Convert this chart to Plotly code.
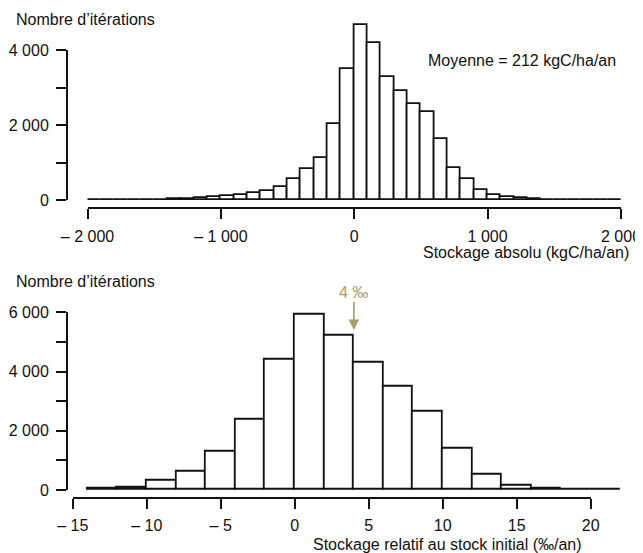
import plotly.graph_objects as go

# ---------------- data ----------------
# Top histogram: absolute storage (kgC/ha/an), bins of width 100 from -2000 to 2000
abs_bin_start = list(range(-2000, 2000, 100))
abs_bin_width = 100
abs_counts = [0, 0, 0, 2, 4, 8, 14, 27, 50, 85,
              105, 133, 178, 249, 338, 570, 840, 1111, 2027, 3493,
              4667, 4187, 3289, 2916, 2551, 2338, 1627, 862, 550, 260,
              145, 71, 44, 20, 12, 8, 5, 3, 1, 0]
abs_yticks = [0, 1000, 2000, 3000, 4000]
abs_yticklabels = ["0", "", "2 000", "", "4 000"]
abs_xticks = [-2000, -1000, 0, 1000, 2000]
abs_xticklabels = ["\u2013 2 000", "\u2013 1 000", "0", "1 000", "2 000"]

# Bottom histogram: relative storage (‰/an), bins of width 2 from -14 to 22
rel_bin_start = list(range(-14, 22, 2))
rel_bin_width = 2
rel_counts = [35, 90, 300, 620, 1310, 2365, 4403, 5912, 5203,
              4291, 3491, 2635, 1400, 520, 152, 56, 0, 0]
rel_yticks = [0, 1000, 2000, 3000, 4000, 5000, 6000]
rel_yticklabels = ["0", "", "2 000", "", "4 000", "", "6 000"]
rel_xticks = [-15, -10, -5, 0, 5, 10, 15, 20]
rel_xticklabels = ["\u2013 15", "\u2013 10", "\u2013 5", "0", "5", "10", "15", "20"]

target_value = 4
mean_text = "Moyenne = 212 kgC/ha/an"

# ---------------- layout helpers ----------------
OFF = 8.0   # the page body margin shifts the figure by 8 px; compensate
W, H = 643 - OFF, 553 - OFF
def px(x):
    return (x - OFF) / W
def py(y):
    return 1 - (y - OFF) / H

FONT = "Liberation Sans, Arial, Helvetica, sans-serif"
INK = "#111111"
GOLD = "#a89c6c"
LW = 1.8

# pixel geometry of the two panels (screen pixels)
TOP_X0, TOP_X1 = 87.5, 621.0          # -2000 .. 2000
TOP_Y0 = 200.0                        # y = 0
TOP_PX_PER_UNIT = 150.0 / 4000        # 4000 -> 150 px
TOP_AXIS_Y = 207.5
BOT_X0 = 72.7                         # x = -15
BOT_PX_PER_UNIT = 14.8
BOT_Y0 = 490.0                        # y = 0
BOT_PX_PER_COUNT = 59.2 / 2000
BOT_AXIS_Y = 497.5
YAXIS_X = 67.0

top_y_max = 4800
bot_x_max = rel_bin_start[-1] + rel_bin_width + 0.05
bot_y_max = 6600

fig = go.Figure()

fig.add_trace(go.Bar(
    x=[s + abs_bin_width / 2 for s in abs_bin_start], y=abs_counts, width=abs_bin_width,
    marker=dict(color="white", line=dict(color=INK, width=LW)),
    xaxis="x", yaxis="y", hoverinfo="x+y", showlegend=False))

fig.add_trace(go.Bar(
    x=[s + rel_bin_width / 2 for s in rel_bin_start], y=rel_counts, width=rel_bin_width,
    marker=dict(color="white", line=dict(color=INK, width=LW)),
    xaxis="x2", yaxis="y2", hoverinfo="x+y", showlegend=False))

# empty traces so that the drawn axes (y3: top counts, x4/y4: bottom) exist
fig.add_trace(go.Scatter(x=[None], y=[None], xaxis="x", yaxis="y3", showlegend=False,
                         hoverinfo="skip", mode="markers"))
fig.add_trace(go.Scatter(x=[None], y=[None], xaxis="x4", yaxis="y4", showlegend=False,
                         hoverinfo="skip", mode="markers"))

tickfont = dict(family=FONT, size=16, color=INK)
common_ticks = dict(ticks="outside", ticklen=10, tickwidth=2, tickcolor=INK,
                    tickfont=tickfont, showgrid=False, zeroline=False, fixedrange=True,
                    automargin=False)

fig.update_layout(
    template="none",
    width=W, height=H, margin=dict(l=0, r=0, t=0, b=0, pad=0, autoexpand=False),
    paper_bgcolor="white", plot_bgcolor="rgba(0,0,0,0)",
    bargap=0, showlegend=False,
    font=dict(family=FONT, size=16, color=INK),
    # top: bars and drawn x axis
    xaxis=dict(domain=[px(TOP_X0), px(TOP_X1)], range=[-2000, 2000], anchor="free",
               position=py(TOP_AXIS_Y), showline=True, linewidth=2, linecolor=INK,
               tickvals=abs_xticks, ticktext=abs_xticklabels, ticklabelstandoff=4,
               **common_ticks),
    yaxis=dict(domain=[py(TOP_Y0), py(TOP_Y0 - top_y_max * TOP_PX_PER_UNIT)],
               range=[0, top_y_max], anchor="free", position=px(YAXIS_X), visible=False,
               showgrid=False, zeroline=False, fixedrange=True),
    yaxis3=dict(domain=[py(TOP_Y0), py(TOP_Y0 - abs_yticks[-1] * TOP_PX_PER_UNIT)],
                range=[0, abs_yticks[-1]], anchor="free", position=px(YAXIS_X),
                showline=True, linewidth=2, linecolor=INK,
                tickvals=abs_yticks, ticktext=abs_yticklabels, ticklabelstandoff=4,
                **common_ticks),
    # bottom: bars on hidden x2/y2, drawn axes x4/y4
    xaxis2=dict(domain=[px(BOT_X0), px(BOT_X0 + (bot_x_max + 15) * BOT_PX_PER_UNIT)],
                range=[-15, bot_x_max], anchor="free", position=py(BOT_AXIS_Y), visible=False,
                showgrid=False, zeroline=False, fixedrange=True),
    yaxis2=dict(domain=[py(BOT_Y0), py(BOT_Y0 - bot_y_max * BOT_PX_PER_COUNT)],
                range=[0, bot_y_max], anchor="free", position=px(YAXIS_X), visible=False,
                showgrid=False, zeroline=False, fixedrange=True),
    xaxis4=dict(domain=[px(BOT_X0), px(BOT_X0 + (rel_xticks[-1] - rel_xticks[0]) * BOT_PX_PER_UNIT)],
                range=[rel_xticks[0], rel_xticks[-1]], anchor="free", position=py(BOT_AXIS_Y),
                showline=True, linewidth=2, linecolor=INK,
                tickvals=rel_xticks, ticktext=rel_xticklabels, ticklabelstandoff=3,
                **common_ticks),
    yaxis4=dict(domain=[py(BOT_Y0), py(BOT_Y0 - rel_yticks[-1] * BOT_PX_PER_COUNT)],
                range=[0, rel_yticks[-1]], anchor="free", position=px(YAXIS_X),
                showline=True, linewidth=2, linecolor=INK,
                tickvals=rel_yticks, ticktext=rel_yticklabels, ticklabelstandoff=4,
                **common_ticks),
)

annotations = [
    dict(text="Nombre d\u2019itérations", xref="paper", yref="paper", x=px(14), y=py(19),
         xanchor="left", yanchor="middle", showarrow=False, font=dict(size=16, color=INK)),
    dict(text="Nombre d\u2019itérations", xref="paper", yref="paper", x=px(14), y=py(281),
         xanchor="left", yanchor="middle", showarrow=False, font=dict(size=16, color=INK)),
    dict(text=mean_text, xref="paper", yref="paper", x=px(426), y=py(60),
         xanchor="left", yanchor="middle", showarrow=False, font=dict(size=16, color=INK)),
    dict(text="Stockage absolu (kgC/ha/an)", xref="paper", yref="paper", x=px(631), y=py(253),
         xanchor="right", yanchor="middle", showarrow=False, font=dict(size=16, color=INK)),
    dict(text="Stockage relatif au stock initial (\u2030/an)", xref="paper", yref="paper",
         x=px(311), y=py(544), xanchor="left", yanchor="middle", showarrow=False,
         font=dict(size=16, color=INK)),
    dict(text="4 \u2030", xref="x2", yref="y2", x=target_value, y=(BOT_Y0 - 330) / BOT_PX_PER_COUNT,
         showarrow=True, ax=0, ay=-38, arrowhead=2, arrowsize=1.3, arrowwidth=1.6,
         arrowcolor=GOLD, font=dict(size=16, color=GOLD)),
]
fig.update_layout(annotations=annotations)

fig.write_html("out.html")
